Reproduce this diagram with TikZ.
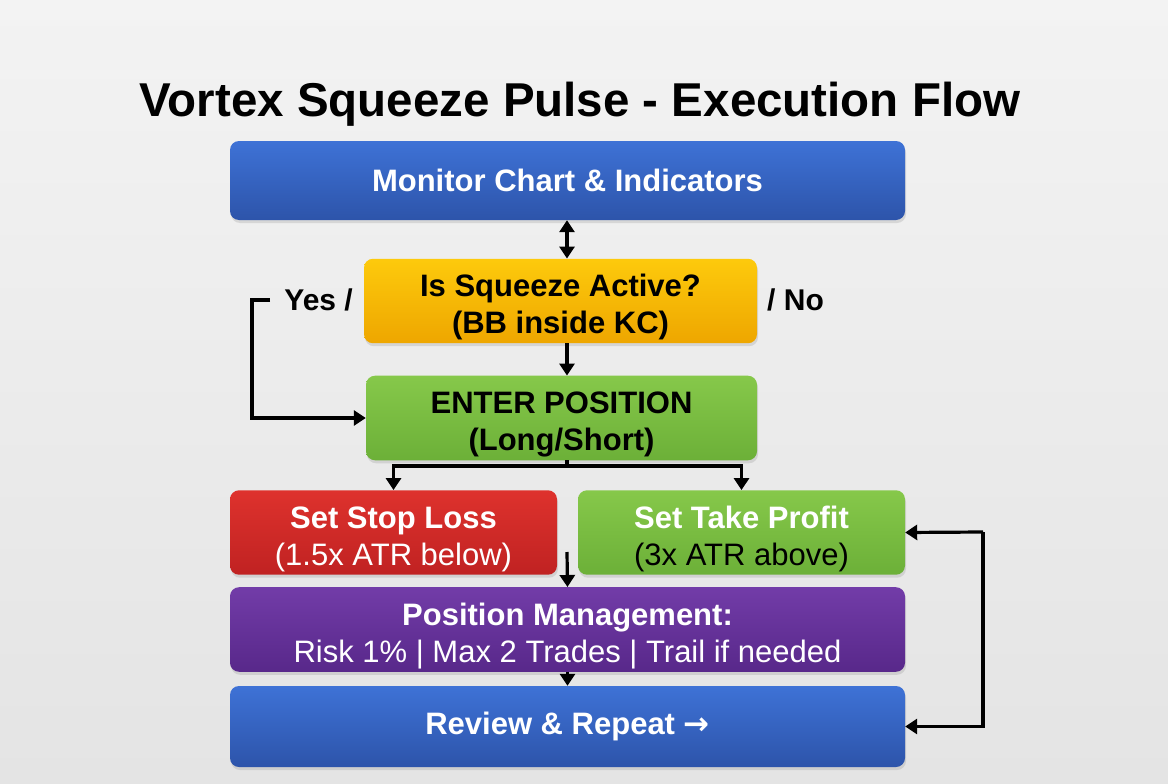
\documentclass[tikz,border=0pt]{standalone}
\usepackage{fontspec}
\setmainfont{Liberation Sans}
\newfontfamily\arrowfont{DejaVu Sans}
\usetikzlibrary{arrows.meta, positioning, shadows}

\definecolor{bgtop}{RGB}{243, 243, 243}
\definecolor{bgbot}{RGB}{228, 228, 228}
\definecolor{flowbluetop}{RGB}{62, 114, 214}
\definecolor{flowbluebot}{RGB}{45, 84, 170}
\definecolor{squeezetop}{RGB}{253, 202, 12}
\definecolor{squeezebot}{RGB}{238, 166, 0}
\definecolor{entertop}{RGB}{134, 200, 74}
\definecolor{enterbot}{RGB}{108, 176, 56}
\definecolor{stoptop}{RGB}{222, 50, 45}
\definecolor{stopbot}{RGB}{192, 34, 34}
\definecolor{mgmttop}{RGB}{114, 60, 168}
\definecolor{mgmtbot}{RGB}{88, 40, 138}

% pushes the first of two lines down a little
\newcommand{\lineup}{\rule{0pt}{35pt}}

\tikzset{
  flowbox/.style={rounded corners=9pt, minimum height=81pt, align=center, inner sep=3pt,
    font=\fontsize{31}{37}\selectfont,
    drop shadow={opacity=0.22, shadow xshift=1pt, shadow yshift=-3pt}},
  bluebox/.style={flowbox, top color=flowbluetop, bottom color=flowbluebot, text=white},
  squeezebox/.style={flowbox, top color=squeezetop, bottom color=squeezebot, text=black},
  greenbox/.style={flowbox, top color=entertop, bottom color=enterbot},
  redbox/.style={flowbox, top color=stoptop, bottom color=stopbot, text=white},
  purplebox/.style={flowbox, top color=mgmttop, bottom color=mgmtbot, text=white},
  flowline/.style={line width=3.2pt},
  flowarrow/.style={flowline, -{Triangle[width=15pt, length=12pt]}},
  sidelabel/.style={font=\fontsize{30}{34}\selectfont\bfseries, inner sep=0pt}
}

\begin{document}
\begin{tikzpicture}[x=1pt, y=-1pt]
  % background
  \useasboundingbox (0,0) rectangle (1168,784);
  \shade[top color=bgtop, bottom color=bgbot] (0,0) rectangle (1168,784);

  % title
  \node[anchor=base, font=\fontsize{47.5}{50}\selectfont\bfseries, inner sep=0pt] (title) at (580,117)
    {Vortex Squeeze Pulse - Execution Flow};

  % main column
  \node[bluebox, minimum width=675pt, minimum height=79pt] (monitor) at (567.5,180.5)
    {\bfseries Monitor Chart \& Indicators};
  \node[squeezebox, minimum width=393pt, minimum height=84pt] (squeeze) at (560.5,301)
    {\lineup\bfseries Is Squeeze Active?\\\bfseries (BB inside KC)};
  \node[greenbox, text=black, minimum width=391pt, minimum height=82pt] (enter) at (561.5,418)
    {\lineup\bfseries ENTER POSITION\\\bfseries (Long/Short)};

  % stop and target
  \node[redbox, minimum width=327pt, minimum height=83pt] (stop) at (393.5,532.5)
    {\lineup\bfseries Set Stop Loss\\(1.5x ATR below)};
  \node[greenbox, minimum width=327pt, minimum height=83pt] (profit) at (741.5,532.5)
    {\lineup\textcolor{white}{\bfseries Set Take Profit}\\(3x ATR above)};

  % management and review
  \node[purplebox, minimum width=675pt] (mgmt) at (567.5,629.5)
    {\lineup\bfseries Position Management:\\Risk 1\% | Max 2 Trades | Trail if needed};
  \node[bluebox, minimum width=675pt] (review) at (567.5,726.5)
    {\bfseries Review \& Repeat {\arrowfont\bfseries →}};

  % yes / no labels
  \node[sidelabel, anchor=east] (yes) at (353,300) {Yes /};
  \node[sidelabel, anchor=west] (no) at (767,300) {/ No};

  % connectors
  \draw[flowline, {Triangle[width=15pt, length=12pt]}-{Triangle[width=15pt, length=12pt]}]
    (monitor.south -| 567,0) -- (squeeze.north -| 567,0);
  \draw[flowarrow] (squeeze.south -| 567,0) -- (enter.north -| 567,0);

  \coordinate (split) at (567,466);
  \draw[flowline] (enter.south -| split) -- (split);
  \draw[flowarrow] (split) -| (stop.north);
  \draw[flowarrow] (split) -| (profit.north);

  \coordinate (gapstart) at (567,552);
  \draw[flowarrow] (gapstart) -- (mgmt.north);
  \draw[flowarrow] (mgmt.south) -- (review.north);

  \coordinate (yesstub) at (270,300);
  \draw[flowarrow] (yesstub) -- (252,300) |- (enter.west);

  \coordinate (loopcorner) at (983,532);
  \draw[flowarrow] (loopcorner) -- (profit.east);
  \draw[flowarrow] (loopcorner) |- (review.east);
\end{tikzpicture}
\end{document}
